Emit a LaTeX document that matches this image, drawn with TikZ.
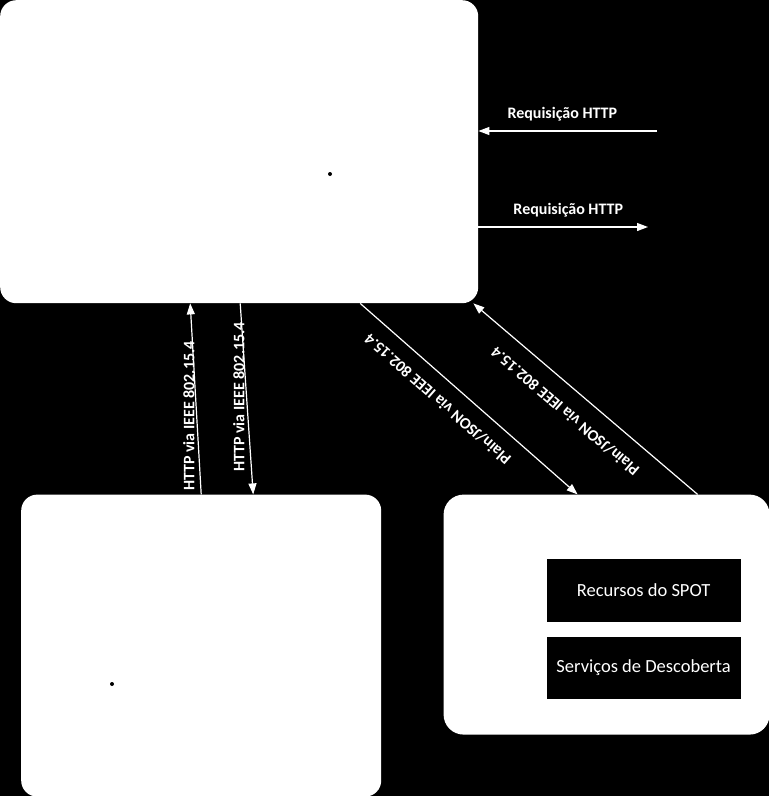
\documentclass[tikz,border=0pt]{standalone}
\usepackage{fontspec}
\setmainfont{Carlito}
\usetikzlibrary{arrows.meta, positioning}

\begin{document}
\begin{tikzpicture}[
  x=1pt, y=-1pt,
  >={Triangle[length=11pt, width=8pt]},
  block/.style={rectangle, fill=white, rounded corners=16pt, inner sep=0pt},
  res/.style={rectangle, fill=black, text=white, minimum width=194pt, inner sep=0pt, font=\fontsize{18.5}{20}\selectfont},
  link/.style={white, line width=1.2pt},
  msg/.style={text=white, font=\bfseries\fontsize{16}{18}\selectfont}
]
  \fill[black] (0,0) rectangle (769,796);
  \useasboundingbox (0,0) rectangle (769,796);

  \node[block, minimum width=478pt, minimum height=303pt, anchor=north west] (gateway) at (0,0) {};
  \node[block, minimum width=360pt, minimum height=302pt, below right=191pt and 21pt of gateway.south west] (base) {};
  \node[block, minimum width=326pt, minimum height=240pt, rounded corners=20pt, below right=0pt and 62pt of base.north east] (spot) {};
  \node[res, minimum height=63pt, below left=64pt and 29pt of spot.north east] (resources) {Recursos do SPOT};
  \node[res, minimum height=62pt, below=15pt of resources] (discovery) {Serviços de Descoberta};

  \fill (330,174) circle (2pt);
  \fill (112,684) circle (2pt);

  \coordinate (reqin) at (657,131);
  \coordinate (reqout) at (648,227);
  \draw[link, ->] (reqin) -- node[msg, pos=0.53, above=6pt] {Requisição HTTP} (reqin -| gateway.east);
  \draw[link, ->] (reqout -| gateway.east) -- node[msg, pos=0.53, above=6pt] {Requisição HTTP} (reqout);

  \draw[link, ->] (base.north) -- node[msg, pos=0.41, rotate=90, anchor=south, inner sep=1.5pt] {HTTP via IEEE 802.15.4} ([xshift=-49pt]gateway.south);
  \draw[link, ->] ([xshift=1pt]gateway.south) -- node[msg, pos=0.49, rotate=90, anchor=south, inner sep=1.5pt] {HTTP via IEEE 802.15.4} ([xshift=52pt]base.north);

  \draw[link, <-] ([xshift=-29pt]spot.north) -- node[msg, pos=0.58, sloped, allow upside down, above=11pt] {Plain/JSON via IEEE 802.15.4} ([xshift=121pt]gateway.south);
  \draw[link, ->] ([xshift=91pt]spot.north) -- node[msg, pos=0.524, sloped, allow upside down, above=13pt] {Plain/JSON via IEEE 802.15.4} ([xshift=-5pt]gateway.south east);
\end{tikzpicture}
\end{document}
